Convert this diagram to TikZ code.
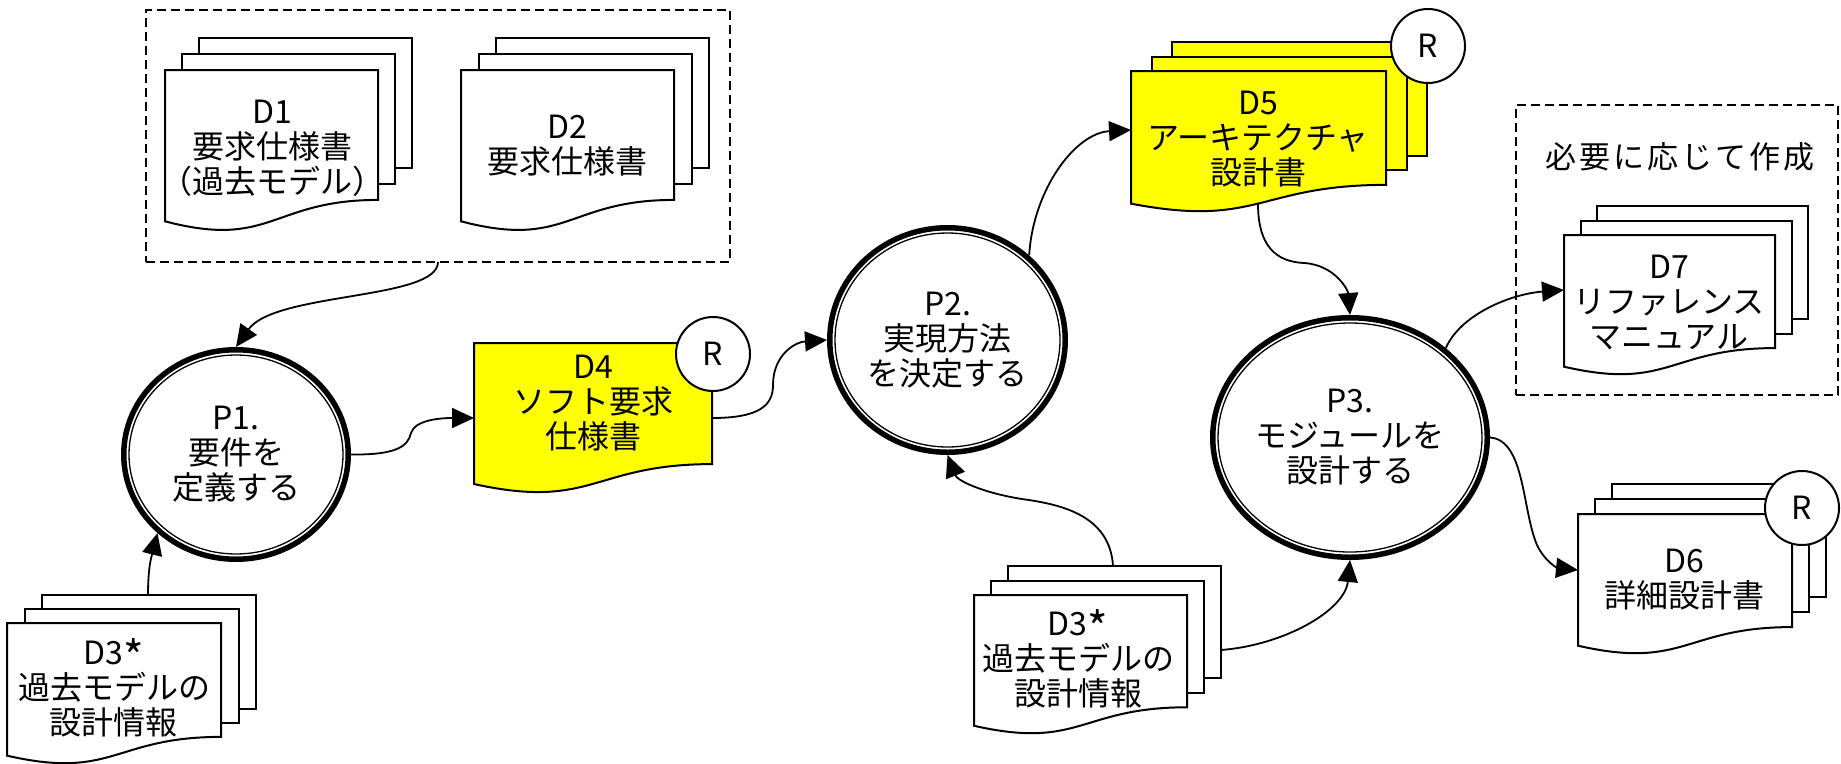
\documentclass[tikz,border=0pt]{standalone}
\usepackage{fontspec}
\setmainfont{Noto Sans CJK JP}
\usetikzlibrary{shapes.geometric,arrows.meta,calc}

\definecolor{docyellow}{HTML}{FFFF00}

% one document page: fill, x, y, w, h
\newcommand\docpage[5]{%
  \filldraw[docline,fill=#1] ({#2},{#3}) -- ({#2+#4},{#3}) -- ({#2+#4},{#3+0.802*#5})
    .. controls ({#2+0.5*#4},{#3+0.802*#5}) and ({#2+0.5*#4},{#3+1.107*#5}) .. ({#2},{#3+0.934*#5}) -- cycle;}
% a sheet behind: fill, x, y, w, h
\newcommand\docsheet[5]{%
  \filldraw[docline,fill=#1] ({#2},{#3}) rectangle ({#2+#4},{#3+0.802*#5});}
% a stack of three: fill, x, y, w, h, dx, dy
\newcommand\docstack[7]{%
  \docsheet{#1}{#2+2*#6}{#3-2*#7}{#4}{#5}%
  \docsheet{#1}{#2+#6}{#3-#7}{#4}{#5}%
  \docpage{#1}{#2}{#3}{#4}{#5}}
\newcommand\bigstar{\raisebox{-9pt}[0pt][0pt]{\fontsize{44}{35}\selectfont *}}

\tikzset{
  docline/.style={line width=2pt, line join=miter},
  doctext/.style={align=center, inner sep=0pt, font=\fontsize{32}{35}\selectfont},
  proc/.style={ellipse, draw, line width=5.5pt, inner sep=0pt, outer sep=2.75pt,
    align=center, font=\fontsize{32}{35}\selectfont},
  procinner/.style={line width=1.3pt},
  rmark/.style={circle, draw, fill=white, line width=2pt, minimum size=74pt,
    inner sep=0pt, font=\fontsize{32}{32}\selectfont},
  dashbox/.style={draw, line width=2pt, dash pattern=on 9pt off 5pt, inner sep=0pt, outer sep=0pt},
  flow/.style={line width=1.8pt, -{Triangle[length=22pt,width=20pt]}},
}

\begin{document}
\begin{tikzpicture}[x=1pt,y=-1pt]
\useasboundingbox (0,0) rectangle (1841,763);

% dashed groups
\node[dashbox, minimum width=584pt, minimum height=252pt] (boxA) at (438,136) {};
\node[dashbox, minimum width=322pt, minimum height=290pt] (boxB) at (1677,250) {};
\node[doctext, font=\fontsize{31}{35}\selectfont\addfontfeatures{LetterSpace=10}] (boxBlabel) at (1680,157) {必要に応じて作成};

% documents
\docstack{white}{165}{70}{213}{162}{17}{16}
\node[doctext] (D1) at (272,148) {D1\\要求仕様書\\（過去モデル）};

\docstack{white}{461}{70}{213}{162}{17.5}{16}
\node[doctext] (D2) at (567,146) {D2\\要求仕様書};

\docstack{white}{7}{623}{214}{142}{17.5}{14}
\node[doctext] (D3a) at (114,689) {D3\bigstar\\過去モデルの\\設計情報};

\docstack{white}{974}{595}{213}{140}{17}{14.5}
\node[doctext] (D3b) at (1078,660) {D3\bigstar\\過去モデルの\\設計情報};

\docpage{docyellow}{474}{343}{238}{151}
\node[doctext] (D4) at (593,403) {D4\\ソフト要求\\仕様書};

\docstack{docyellow}{1131}{71}{255}{142}{20.5}{14.5}
\node[doctext] (D5) at (1258,139) {D5\\アーキテクチャ\\設計書};

\docstack{white}{1578}{514}{214}{141}{17}{15}
\node[doctext] (D6) at (1684,580) {D6\\詳細設計書};

\docstack{white}{1564}{235}{211}{141}{16.5}{14.5}
\node[doctext] (D7) at (1669,302) {D7\\リファレンス\\マニュアル};

% processes
\node[proc, minimum width=224.5pt, minimum height=209.5pt] (P1) at (236,454.5) {P1.\\要件を\\定義する};
\draw[procinner] (P1.center) ellipse [x radius=107pt, y radius=99.5pt];
\node[proc, minimum width=235.5pt, minimum height=224.5pt] (P2) at (947.5,340) {P2.\\実現方法\\を決定する};
\draw[procinner] (P2.center) ellipse [x radius=112.5pt, y radius=107pt];
\node[proc, minimum width=274.5pt, minimum height=239.5pt] (P3) at (1350,437.5) {P3.\\モジュールを\\設計する};
\draw[procinner] (P3.center) ellipse [x radius=132pt, y radius=114.5pt];

% connector end points on documents
\coordinate (D3atop) at (148,595);
\coordinate (D4in) at (474,418);
\coordinate (D4out) at (712,418);
\coordinate (D5in) at (1131,130);
\coordinate (D5bot) at (1258,204);
\coordinate (D3btop) at (1113,566);
\coordinate (D3bright) at (1221,650);
\coordinate (D7in) at (1564,290);
\coordinate (D6in) at (1578,570);

% connectors
\draw[flow] (boxA.south) .. controls (438,300) and (275,292) .. (P1.north);
\draw[flow] (D3atop) .. controls (148,565) and (152,555) .. (P1.225);
\draw[flow] (P1.east) .. controls (395,455) and (408,447) .. (411,433) .. controls (415,420) and (440,418) .. (D4in);
\draw[flow] (D4out) .. controls (760,418) and (773,405) .. (773,385) .. controls (773,355) and (795,342) .. (P2.west);
\draw[flow] (P2.46) .. controls (1033,190) and (1075,133) .. (D5in);
\draw[flow] (D5bot) .. controls (1258,255) and (1285,262) .. (1304,263) .. controls (1335,265) and (1348,290) .. (P3.north);
\draw[flow] (D3btop) .. controls (1110,515) and (1060,505) .. (1029,500) .. controls (990,495) and (958,482) .. (P2.south);
\draw[flow] (D3bright) .. controls (1285,645) and (1345,610) .. (P3.south);
\draw[flow] (P3.43) .. controls (1460,315) and (1510,294) .. (D7in);
\draw[flow] (P3.east) .. controls (1525,440) and (1522,510) .. (1537,545) .. controls (1545,562) and (1558,568) .. (D6in);

% review marks
\node[rmark] (R4) at (713,354) {R};
\node[rmark] (R5) at (1428,46) {R};
\node[rmark] (R6) at (1802,508) {R};
\end{tikzpicture}
\end{document}
